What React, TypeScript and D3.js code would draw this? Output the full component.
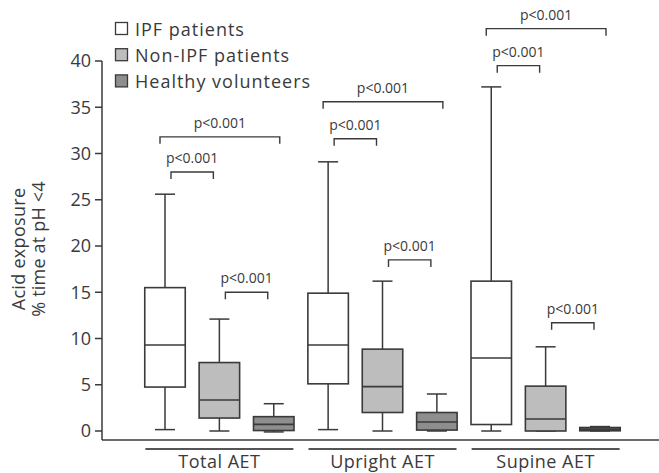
import React from "react";
import * as d3 from "d3";

const categories = ["Total AET", "Upright AET", "Supine AET"];
const seriesNames = ["IPF patients", "Non-IPF patients", "Healthy volunteers"];
const seriesFill = ["#ffffff", "#bdbdbd", "#8e8e8e"];

// per series, per category
const whiskerLow = [
  [0.15, 0.15, 0],
  [0, 0, 0],
  [-0.1, 0, 0],
];
const q1 = [
  [4.75, 5.1, 0.7],
  [1.4, 2.0, 0],
  [0.05, 0.1, 0.02],
];
const median = [
  [9.3, 9.3, 7.9],
  [3.35, 4.8, 1.3],
  [0.72, 0.97, 0.2],
];
const q3 = [
  [15.5, 14.9, 16.2],
  [7.4, 8.85, 4.85],
  [1.55, 2.0, 0.38],
];
const whiskerHigh = [
  [25.6, 29.1, 37.2],
  [12.1, 16.2, 9.1],
  [2.95, 4.0, 0.48],
];

const yTicks = [0, 5, 10, 15, 20, 25, 30, 35, 40];

// significance brackets: category index, series a, series b, height (data units)
const bracketCat = [0, 0, 0, 1, 1, 1, 2, 2, 2];
const bracketA = [0, 0, 1, 0, 0, 1, 0, 0, 1];
const bracketB = [1, 2, 2, 1, 2, 2, 1, 2, 2];
const bracketY = [28, 31.8, 15.0, 31.6, 35.6, 18.5, 39.5, 43.5, 11.7];
const bracketLabel = "p<0.001";

const W = 659;
const H = 473;
const FONT = "'Open Sans', 'DejaVu Sans', sans-serif";
const INK = "#3a3a3a";

export default function App() {
  const keys: string[] = [];
  categories.forEach((c, ci) => seriesNames.forEach((s, si) => keys.push(ci + "-" + si)));
  const x = d3.scalePoint<string>().domain(keys).range([165, 600]);
  const y = d3.scaleLinear().domain([0, 40]).range([431, 61]);
  const boxW = 40.5;
  const capW = 20;
  const axisX = 102;
  const baseY = 440;

  const boxes: JSX.Element[] = [];
  seriesNames.forEach((s, si) => {
    categories.forEach((c, ci) => {
      const cx = x(ci + "-" + si) as number;
      const lo = whiskerLow[si][ci];
      const hi = whiskerHigh[si][ci];
      const a = q1[si][ci];
      const b = q3[si][ci];
      const m = median[si][ci];
      boxes.push(
        <g key={"b" + si + ci} stroke={INK}>
          <line x1={cx} x2={cx} y1={y(hi)} y2={y(b)} strokeWidth={1.5} />
          <line x1={cx} x2={cx} y1={y(a)} y2={y(lo)} strokeWidth={1.5} />
          <line x1={cx - capW / 2} x2={cx + capW / 2} y1={y(hi)} y2={y(hi)} strokeWidth={1.5} />
          <line x1={cx - capW / 2} x2={cx + capW / 2} y1={y(lo)} y2={y(lo)} strokeWidth={1.5} />
          <rect
            x={cx - boxW / 2}
            y={y(b)}
            width={boxW}
            height={Math.max(0.5, y(a) - y(b))}
            fill={seriesFill[si]}
            strokeWidth={1.6}
          />
          <line x1={cx - boxW / 2} x2={cx + boxW / 2} y1={y(m)} y2={y(m)} strokeWidth={1.6} />
        </g>
      );
    });
  });

  const brackets = bracketY.map((bv, i) => {
    const ci = bracketCat[i];
    const xa = x(ci + "-" + bracketA[i]) as number;
    const xb = x(ci + "-" + bracketB[i]) as number;
    const wide = bracketB[i] - bracketA[i] > 1;
    const x1 = wide ? xa - 5 : xa + 6;
    const x2 = wide ? xb + 6 : xb - 6;
    const yy = y(bv);
    return (
      <g key={"br" + i}>
        <path
          d={`M${x1},${yy + 7}V${yy}H${x2}V${yy + 7}`}
          fill="none"
          stroke={INK}
          strokeWidth={1.4}
        />
        <text
          x={(x1 + x2) / 2}
          y={yy - 9}
          textAnchor="middle"
          fontSize={14}
          fill={INK}
          fontFamily={FONT}
        >
          {bracketLabel}
        </text>
      </g>
    );
  });

  return (
    <svg
      width={W}
      height={H}
      style={{ position: "absolute", left: 0, top: 0, background: "#fff" }}
    >
      {/* axes */}
      <line x1={axisX} x2={axisX} y1={y(40)} y2={baseY} stroke={INK} strokeWidth={1.5} />
      <line x1={axisX} x2={W} y1={baseY} y2={baseY} stroke={INK} strokeWidth={1.5} />
      {yTicks.map((t) => (
        <g key={"t" + t}>
          <line x1={axisX - 7} x2={axisX} y1={y(t)} y2={y(t)} stroke={INK} strokeWidth={1.5} />
          <text
            x={axisX - 11}
            y={y(t)}
            dy="0.36em"
            textAnchor="end"
            fontSize={18}
            fill={INK}
            fontFamily={FONT}
          >
            {t}
          </text>
        </g>
      ))}
      {/* y label */}
      <text
        transform={`translate(25,249) rotate(-90)`}
        textAnchor="middle"
        fontSize={18}
        fill={INK}
        fontFamily={FONT}
        letterSpacing={0.3}
      >
        Acid exposure
      </text>
      <text
        transform={`translate(45,249) rotate(-90)`}
        textAnchor="middle"
        fontSize={18}
        fill={INK}
        fontFamily={FONT}
        letterSpacing={0.2}
      >
        % time at pH &lt;4
      </text>
      {/* category labels */}
      {categories.map((c, ci) => {
        const cx = x(ci + "-1") as number;
        return (
          <g key={"c" + ci}>
            <line x1={cx - 74} x2={cx + 74} y1={449} y2={449} stroke="#555" strokeWidth={2} />
            <text
              x={cx}
              y={468}
              textAnchor="middle"
              fontSize={18}
              fill={INK}
              fontFamily={FONT}
              letterSpacing={0.5}
            >
              {c}
            </text>
          </g>
        );
      })}
      {boxes}
      {brackets}
      {/* legend */}
      {seriesNames.map((s, si) => (
        <g key={"l" + si}>
          <rect
            x={115.5}
            y={22.5 + si * 26.2}
            width={12}
            height={12}
            fill={seriesFill[si]}
            stroke={INK}
            strokeWidth={1.3}
          />
          <text
            x={135}
            y={36 + si * 26.2}
            fontSize={18}
            fill={INK}
            fontFamily={FONT}
            letterSpacing={1}
          >
            {s}
          </text>
        </g>
      ))}
    </svg>
  );
}
